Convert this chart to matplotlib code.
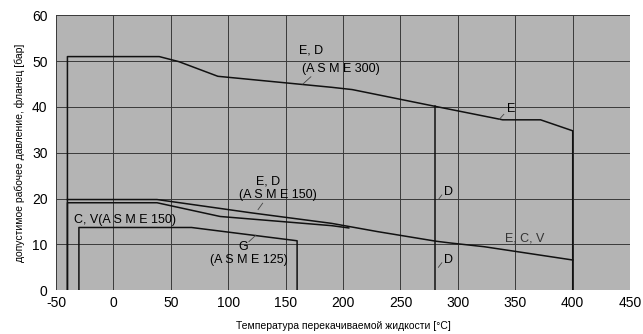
import matplotlib
matplotlib.use('Agg')
import matplotlib.pyplot as plt

plt.rcParams['font.family'] = ['Liberation Sans', 'DejaVu Sans']
plt.rcParams['axes.unicode_minus'] = False

# ASME 300 (E, D)
asme300_t = [-40, -40, 40, 57, 91, 190, 208, 281, 339, 372, 400, 400]
asme300_p = [0, 51.0, 51.0, 49.9, 46.7, 44.3, 43.8, 40.1, 37.2, 37.2, 34.8, 0]
# D ends at 280
d300_t = [280, 280]
d300_p = [40.2, 0]
# ASME 150 (E, D)
ed150_t = [-40, 38, 120, 190, 230, 281, 294, 323, 400]
ed150_p = [19.8, 19.8, 16.9, 14.6, 12.8, 10.7, 10.3, 9.5, 6.6]
# ASME 150 (C, V)
cv150_t = [-40, -40, 38, 93, 190, 205]
cv150_p = [0, 19.1, 19.1, 16.1, 14.1, 13.6]
# ASME 125 (G)
g125_t = [-30, -30, 68, 160, 160]
g125_p = [0, 13.7, 13.7, 10.8, 0]

xticks = [-50, 0, 50, 100, 150, 200, 250, 300, 350, 400, 450]
yticks = [0, 10, 20, 30, 40, 50, 60]

fig = plt.figure(figsize=(6.43, 3.34), dpi=100)
ax = fig.add_axes([0.087, 0.131, 0.893, 0.823])
ax.set_facecolor('#b4b4b4')
ax.set_xlim(-50, 450)
ax.set_ylim(0, 60)
ax.set_xticks(xticks)
ax.set_yticks(yticks)
ax.grid(True, color='#3a3a3a', linewidth=0.7)
ax.set_axisbelow(True)
ax.tick_params(axis='x', length=0, labelsize=10, pad=4)
ax.tick_params(axis='y', length=0, labelsize=10, pad=6)
for sp in ax.spines.values():
    sp.set_visible(False)

lc = '#111111'
ax.plot(asme300_t, asme300_p, color=lc, lw=1.1)
ax.plot(d300_t, d300_p, color=lc, lw=1.1)
ax.plot(ed150_t, ed150_p, color=lc, lw=1.1)
ax.plot(cv150_t, cv150_p, color=lc, lw=1.1)
ax.plot(g125_t, g125_p, color=lc, lw=1.1)

fs = 9
ax.text(172, 52.3, 'E, D', fontsize=fs, ha='center', va='center')
ax.text(198, 48.2, '(A S M E 300)', fontsize=fs, ha='center', va='center')
ax.plot([172, 165], [46.6, 45.0], color='#444444', lw=0.6)
ax.text(346, 39.6, 'E', fontsize=fs, ha='center', va='center')
ax.plot([340, 336], [38.4, 37.3], color='#444444', lw=0.6)
ax.text(135, 23.7, 'E, D', fontsize=fs, ha='center', va='center')
ax.text(143, 20.8, '(A S M E 150)', fontsize=fs, ha='center', va='center')
ax.plot([130, 126], [19.0, 17.6], color='#444444', lw=0.6)
ax.text(-34, 15.3, 'C, V(A S M E 150)', fontsize=fs, ha='left', va='center')
ax.text(113, 9.4, 'G', fontsize=fs, ha='center', va='center')
ax.text(118, 6.6, '(A S M E 125)', fontsize=fs, ha='center', va='center')
ax.plot([118, 124], [10.6, 12.0], color='#444444', lw=0.6)
ax.text(292, 21.4, 'D', fontsize=fs, ha='center', va='center')
ax.plot([286, 283], [20.8, 19.8], color='#444444', lw=0.6)
ax.text(292, 6.6, 'D', fontsize=fs, ha='center', va='center')
ax.plot([286, 283], [6.0, 5.0], color='#444444', lw=0.6)
ax.text(358, 11.2, 'E, C, V', fontsize=fs, ha='center', va='center', color='#333333')

ax.set_xlabel('Температура перекачиваемой жидкости [°C]', fontsize=7.5, labelpad=8)
ax.set_ylabel('допустимое рабочее давление, фланец [бар]', fontsize=7.5, labelpad=5)

fig.savefig('out.png', dpi=100)
